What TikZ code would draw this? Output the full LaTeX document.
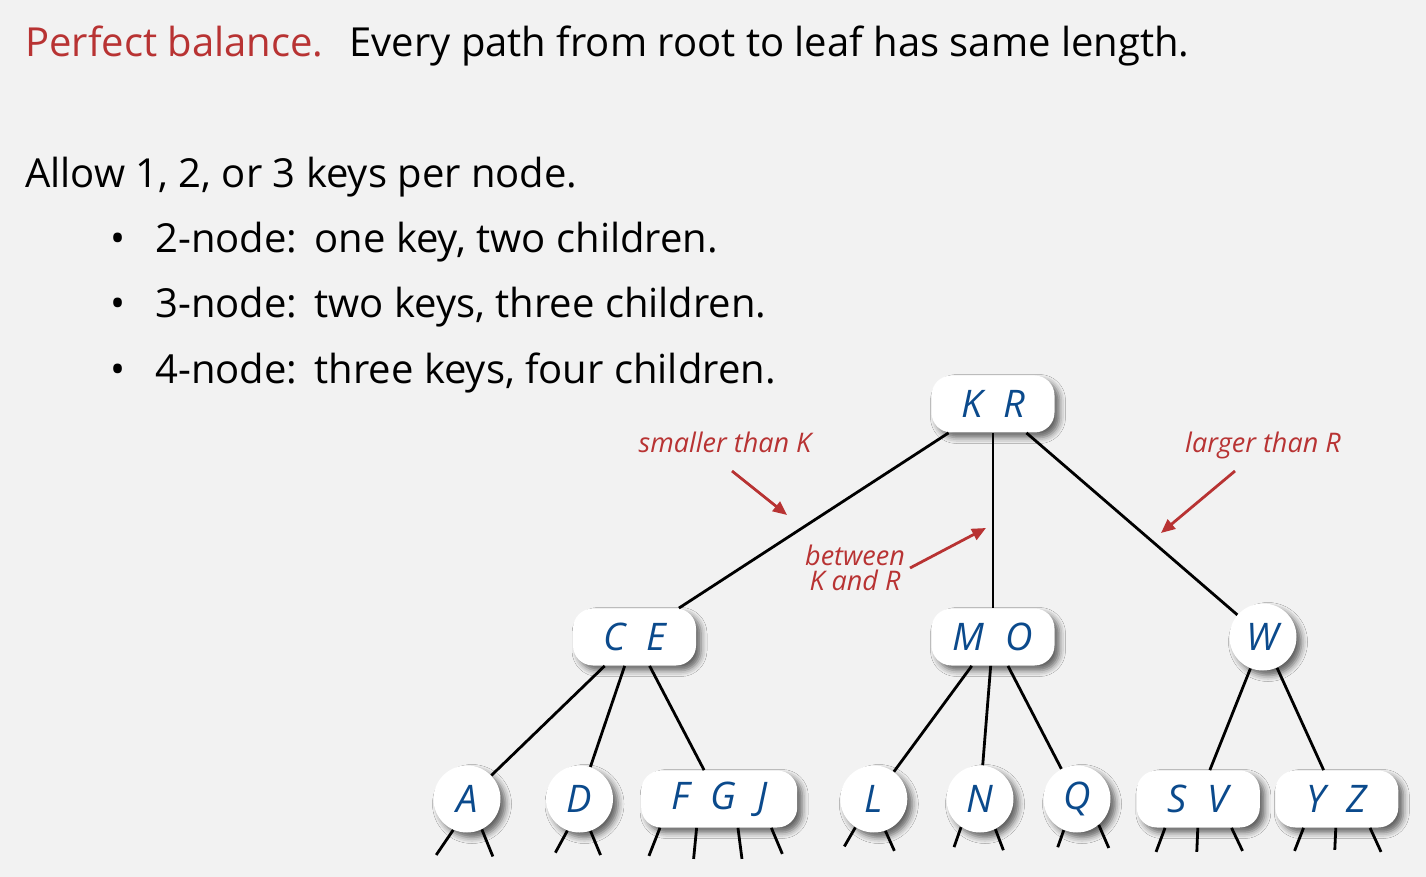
\documentclass[tikz,border=0pt]{standalone}
\usepackage{fontspec}
\setmainfont{Open Sans}
\usepackage{xcolor}
\usepackage{tikz}
\usetikzlibrary{shadows.blur,arrows.meta}

\definecolor{slidebg}{HTML}{F2F2F2}
\definecolor{keyblue}{HTML}{0B4A8C}
\definecolor{notered}{HTML}{B83333}

\newcommand{\kgap}{\hspace{0.55em}}

\tikzset{
	keynode/.style={fill=white, inner sep=0pt, text=keyblue,
		font=\fontsize{19}{22}\selectfont\itshape,
		blur shadow={shadow xshift=2.5pt, shadow yshift=-2.5pt, shadow blur radius=3pt, shadow opacity=60}},
	k1/.style={keynode, circle, minimum size=33.5pt},
	k2/.style={keynode, rounded corners=10pt, minimum height=28.5pt, minimum width=61.5pt},
	k3/.style={keynode, rounded corners=10pt, minimum height=28.5pt, minimum width=78pt},
	textline/.style={anchor=base west, inner sep=0pt, font=\fontsize{20}{24}\selectfont},
	note/.style={text=notered, inner sep=0pt, align=center, font=\fontsize{13.5}{12.5}\selectfont\itshape},
	pointer/.style={draw=notered, line width=1.4pt, -{Triangle[length=7pt, width=6pt]}},
	stub/.style={draw, line width=1.4pt},
}

\begin{document}
\begin{tikzpicture}[x=0.5pt, y=-0.5pt, sibling distance=0pt,
	level 1/.style={level distance=116.5pt},
	level 2/.style={level distance=81pt},
	edge from parent/.style={draw, line width=1.4pt}]
\useasboundingbox[fill=slidebg] (0,0) rectangle (1426,877);

\node[textline] (title) at (25,57) {\textcolor{notered}{Perfect balance.}\hspace{0.3em} Every path from root to leaf has same length.};
\node[textline] (allow) at (25,188) {Allow 1, 2, or 3 keys per node.};
\node[textline] (b1) at (110,253) {\textbullet};
\node[textline] (l1) at (155,253) {2-node:\ \,one key, two children.};
\node[textline] (b2) at (110,318) {\textbullet};
\node[textline] (l2) at (155,318) {3-node:\ \,two keys, three children.};
\node[textline] (b3) at (110,384) {\textbullet};
\node[textline] (l3) at (155,384) {4-node:\ \,three keys, four children.};

\node[k2] (kr) at (993,404) {K\kgap R} {
	child[xshift=-179.25pt] {
		node[k2] (ce) {C\kgap E}
		child[xshift=-83.75pt] {
			node[k1] (a) {A}
		}
		child[xshift=-27.5pt] {
			node[k1] (d) {D}
		}
		child[xshift=42.35pt] {
			node[k3] (fgj) {F\kgap G\kgap J}
		}
	}
	child {
		node[k2] (mo) {M\kgap O}
		child[xshift=-59.6pt] {
			node[k1] (l) {L}
		}
		child[xshift=-6.5pt] {
			node[k1] (n) {N}
		}
		child[xshift=42pt] {
			node[k1] (q) {Q}
		}
	}
	child[xshift=135pt] {
		node[k1] (w) {W}
		child[xshift=-32.35pt] {
			node[k2] (sv) {S\kgap V}
		}
		child[xshift=36.9pt] {
			node[k2] (yz) {Y\kgap Z}
		}
	}
};

\foreach \nd/\ang/\dx/\dy [count=\i] in {
	a/246/-17/25, a/296/11/27,
	d/249/-12/22, d/289/10/24,
	fgj/206/-11/28, fgj/232/-3/31, fgj/303/4/31, fgj/331/11/26,
	l/237/-11/19, l/290/9/20,
	n/236/-7/20, n/297/8/21,
	q/247/-6/17, q/310/10/23,
	sv/221/-9/24, sv/269/-1/24, sv/319/11/23,
	yz/221/-9/23, yz/268/-1/22, yz/319/11/24} {
	\path (\nd.\ang) ++(\dx,\dy) coordinate (end\i);
	\draw[stub] (\nd.\ang) -- (end\i);
}

\node[note, anchor=base] (smaller) at (725,452) {smaller than K};
\node[note] (between) at (855,568) {between\\K and R};
\node[note, anchor=base] (larger) at (1263,452) {larger than R};

\coordinate (smallerfrom) at (732,471);
\coordinate (smallerto) at (787,515);
\coordinate (betweenfrom) at (910,568);
\coordinate (betweento) at (986,528);
\coordinate (largerfrom) at (1235,471);
\coordinate (largerto) at (1161,533);
\draw[pointer] (smallerfrom) -- (smallerto);
\draw[pointer] (betweenfrom) -- (betweento);
\draw[pointer] (largerfrom) -- (largerto);
\end{tikzpicture}
\end{document}
